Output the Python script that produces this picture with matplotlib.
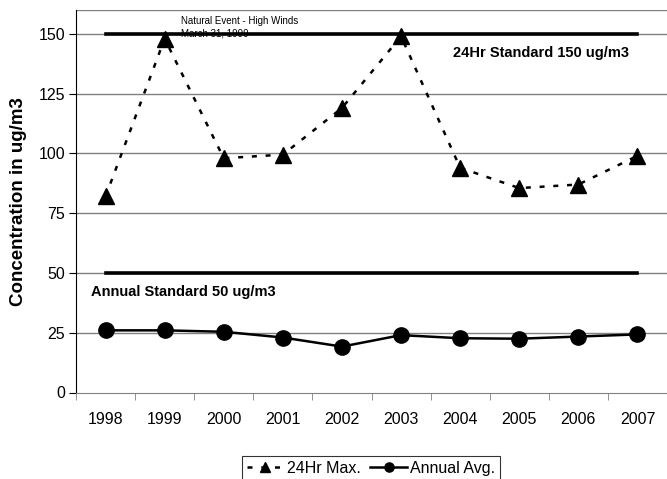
import numpy as np
from matplotlib import pyplot as plt

# %% Data.
years = ['1998', '1999', '2000', '2001', '2002', '2003', '2004', '2005',
         '2006', '2007']
max24 = [82, 148, 98, 99.5, 119, 149, 94, 85.5, 87, 99]
annual = [26, 26, 25.4, 23, 19.2, 24, 22.7, 22.5, 23.4, 24.3]
std24 = 150
std_annual = 50
y_ticks = [0, 25, 50, 75, 100, 125, 150]

# %% Figure.
plt.rcParams['font.family'] = ['Liberation Sans', 'DejaVu Sans']
fig = plt.figure(figsize=(6.67, 4.79), dpi=100)
ax = fig.add_axes([76 / 667, 1 - 392.5 / 479, 591 / 667, 382.5 / 479])

x = np.arange(len(years))

# Grid lines:
for v in y_ticks[1:] + [160]:
    ax.axhline(v, color='#808080', lw=1.0, zorder=1)

# Standards:
ax.plot([x[0], x[-1]], [std24, std24], color='k', lw=2.6, zorder=2)
ax.plot([x[0], x[-1]], [std_annual, std_annual], color='k', lw=2.6, zorder=2)

# Series:
l1, = ax.plot(x, max24, color='k', ls=(0, (2, 3.5)), lw=1.8, marker='^',
              ms=11, zorder=3, label='24Hr Max.')
l2, = ax.plot(x, annual, color='k', ls='-', lw=1.8, marker='o', ms=11,
              zorder=3, label='Annual Avg.')

# Texts:
ax.text(1.27, 157.5, 'Natural Event - High Winds\nMarch 31, 1999',
        fontsize=7, va='top', ha='left', linespacing=1.3,
        fontstretch='condensed')
ax.text(5.88, 145, '24Hr Standard 150 ug/m3', fontsize=10.5,
        fontweight='bold', va='top', ha='left')
ax.text(-0.25, 45, 'Annual Standard 50 ug/m3', fontsize=10.5,
        fontweight='bold', va='top', ha='left')

# Axes:
ax.set_xlim(-0.5, len(years) - 0.5)
ax.set_ylim(0, 160)
ax.set_yticks(y_ticks)
ax.set_yticklabels([str(v) for v in y_ticks], fontsize=11.5)
ax.set_xticks(x)
ax.set_xticklabels(years, fontsize=11.5)
ax.tick_params(axis='x', which='major', length=0, pad=14)
ax.set_xticks(np.arange(-0.5, len(years)), minor=True)
ax.tick_params(axis='x', which='minor', length=5, color='#808080')
ax.tick_params(axis='y', length=5, pad=3)

for s in ['top', 'right']:
    ax.spines[s].set_visible(False)
ax.spines['bottom'].set_color('#808080')
ax.spines['left'].set_color('k')

ax.set_ylabel('Concentration in ug/m3', fontsize=13.5, fontweight='bold',
              labelpad=8)

# Legend:
leg = fig.legend(handles=[l1, l2], loc='upper center',
                 bbox_to_anchor=(371 / 667, 1 - 448 / 479), ncol=2,
                 fontsize=11.5, frameon=True, fancybox=False,
                 markerscale=0.6, handlelength=2.3, handletextpad=0.2,
                 columnspacing=0.6, borderpad=0.3)
leg.get_frame().set_edgecolor('k')
leg.get_frame().set_linewidth(0.8)

fig.savefig('out.png', dpi=100)
